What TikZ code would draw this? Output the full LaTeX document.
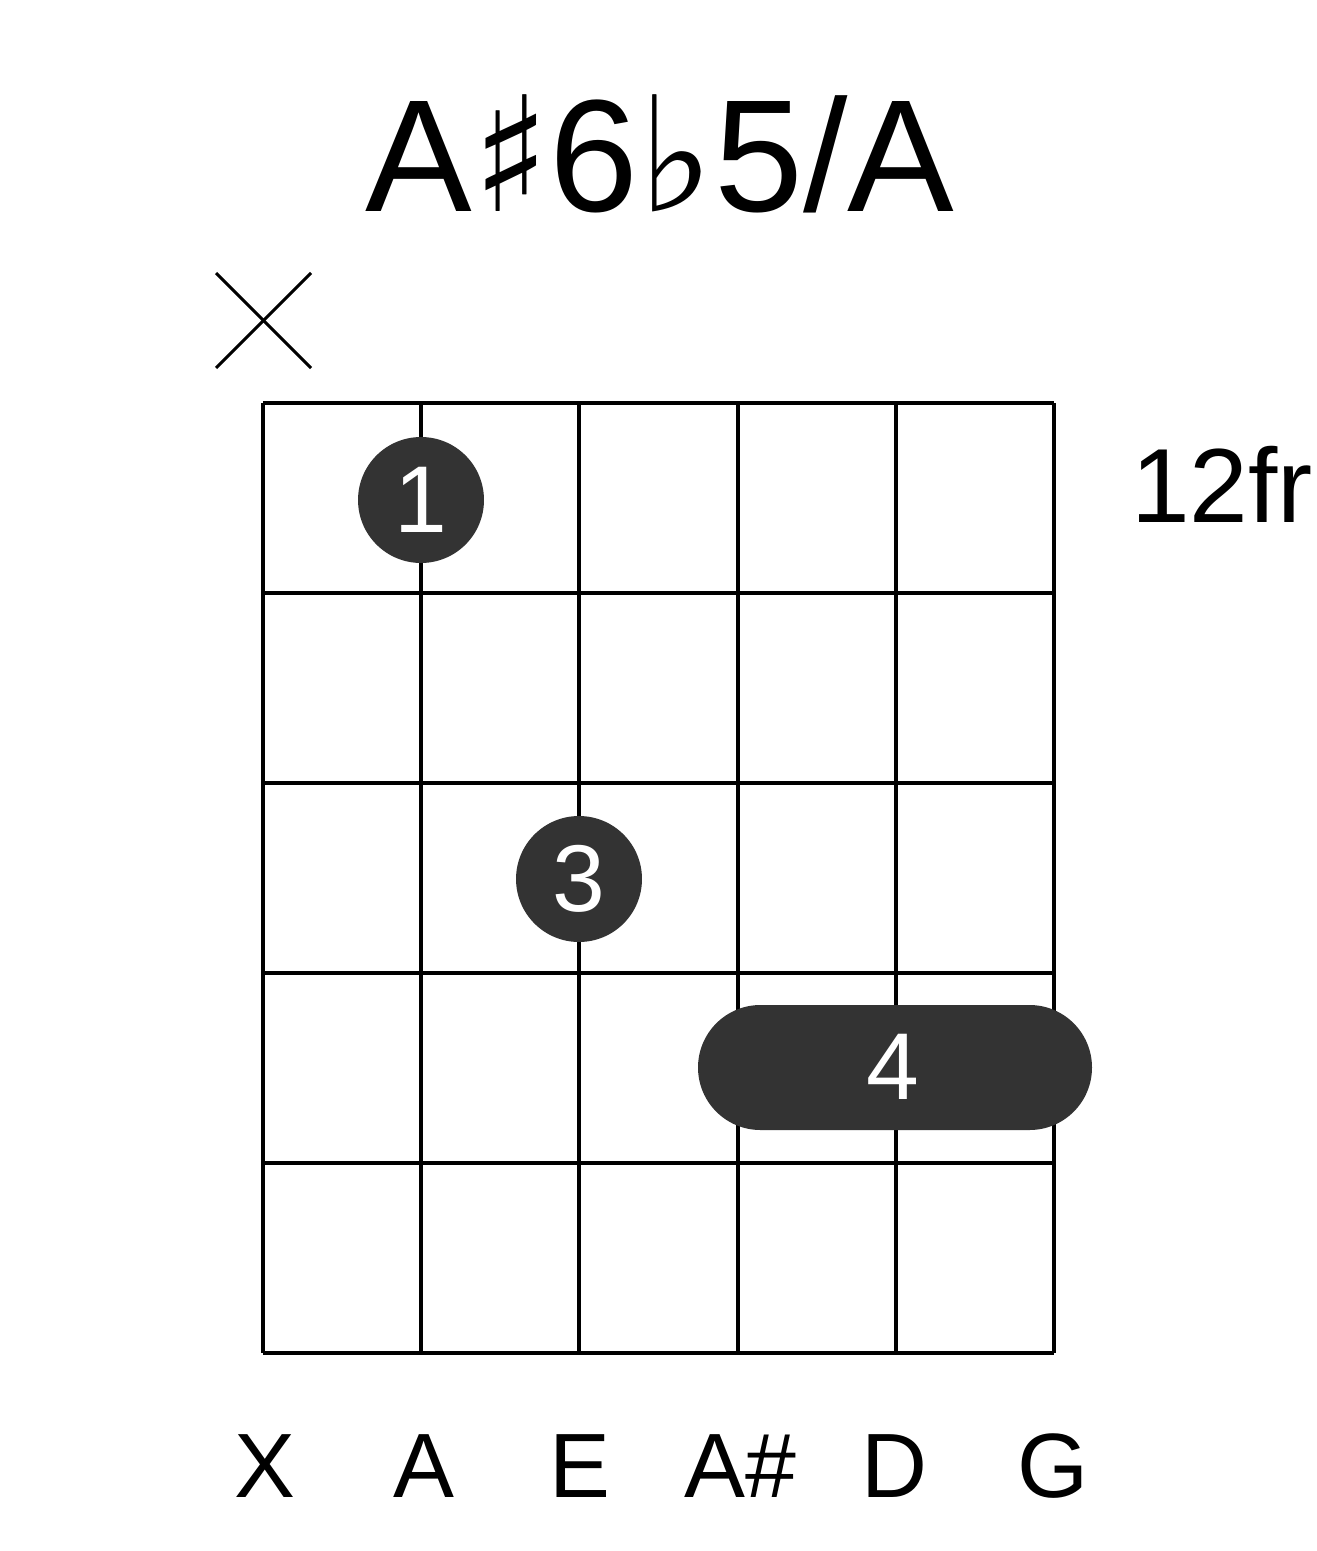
\documentclass[tikz,border=0pt]{standalone}
\usepackage{fontspec}
\setmainfont{Liberation Sans}
\newfontfamily\symfont{DejaVu Sans}
\usetikzlibrary{positioning}
\tikzset{fret/.style={line width=2.3pt},
  finger/.style={circle,fill=black!80,minimum size=2.52cm,inner sep=0pt,text=white,font=\fontsize{54}{54}\selectfont},
  strname/.style={font=\fontsize{52}{52}\selectfont,anchor=base}}
\begin{document}
\begin{tikzpicture}[x=0.02cm,y=-0.02cm]
\useasboundingbox (0,0) rectangle (1317,1551);
% title
\node[anchor=base,font=\fontsize{91}{91}\selectfont] (title) at (660,212) {A{\symfont\fontsize{91}{91}\selectfont ♯}6{\symfont\fontsize{91}{91}\selectfont ♭}5/A};
% grid
\foreach \i in {0,...,5}
  \draw[fret] (263+158.2*\i,403) -- (263+158.2*\i,1353);
\foreach \j in {0,...,5}
  \draw[fret] (263,403+190*\j) -- (1054,403+190*\j);
% muted string
\draw[line width=1.8pt] (216,273) -- (311,368);
\draw[line width=1.8pt] (216,368) -- (311,273);
\node[anchor=base,font=\fontsize{60}{60}\selectfont] (fr) at (1222,522) {12fr};
% fingers
\node[finger] (f1) at (421,500) {1};
\node[finger] (f3) at (579,879) {3};
\fill[black!80,rounded corners=1.25cm] (698,1005) rectangle (1092,1130);
\node[text=white,font=\fontsize{54}{54}\selectfont] (f4) at (893,1067) {4};
% string names
\foreach \s/\x in {X/265,A/424,E/580,A\#/740,D/894,G/1053}
  \node[strname] (s\x) at (\x,1497) {\s};
\end{tikzpicture}
\end{document}
